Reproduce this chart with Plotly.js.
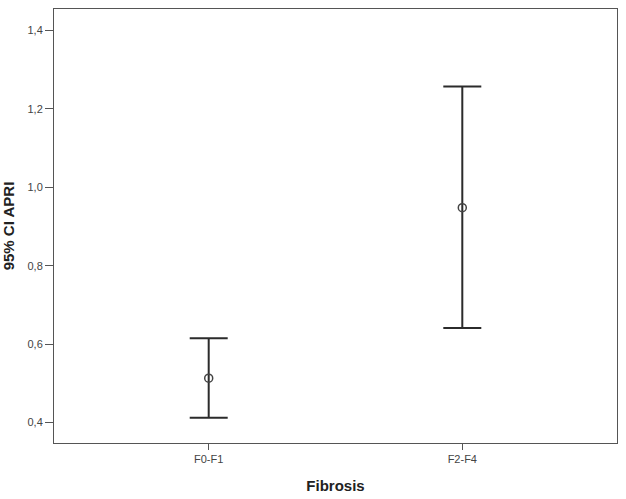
<!DOCTYPE html>
<html><head><meta charset="utf-8">
<script src="https://cdn.plot.ly/plotly-3.0.1.min.js"></script>
<style>html,body{margin:0;padding:0;background:#fff}</style>
</head><body><div id="chart" style="width:626px;height:499px"></div>
<script>
const categories = ["F0-F1", "F2-F4"];
const means = [0.513, 0.948];
const upper = [0.615, 1.257];
const lower = [0.412, 0.641];
const yTicks = [0.4, 0.6, 0.8, 1.0, 1.2, 1.4];

const trace = {
  type: 'scatter', mode: 'markers',
  x: categories, y: means,
  marker: {symbol: 'circle-open', size: 8, color: '#444', line: {width: 1.5, color: '#444'}},
  error_y: {
    type: 'data', symmetric: false,
    array: means.map((m, i) => upper[i] - m),
    arrayminus: means.map((m, i) => m - lower[i]),
    color: '#2b2b2b', thickness: 2, width: 19
  },
  hoverinfo: 'skip'
};

const layout = {
  width: 626, height: 499,
  margin: {l: 54, r: 9, t: 9, b: 56},
  paper_bgcolor: '#fff', plot_bgcolor: '#fff',
  separators: ',.',
  showlegend: false,
  font: {family: 'Arial, Liberation Sans, sans-serif', size: 11, color: '#444'},
  xaxis: {
    type: 'category', range: [-0.61, 1.61],
    showline: true, mirror: true, linecolor: '#555', linewidth: 1,
    showgrid: false, zeroline: false,
    ticks: 'outside', ticklen: 6, tickcolor: '#555',
    tickfont: {size: 11, color: '#444'},
    title: {text: 'Fibrosis', font: {size: 15, color: '#222', family: 'Arial, Liberation Sans, sans-serif', weight: 'bold'}, standoff: 16}
  },
  yaxis: {
    range: [0.3475, 1.455],
    tickvals: yTicks, ticktext: yTicks.map(v => v.toFixed(1).replace('.', ',')),
    showline: true, mirror: true, linecolor: '#555', linewidth: 1,
    showgrid: false, zeroline: false,
    ticks: 'outside', ticklen: 8, tickcolor: '#555',
    tickfont: {size: 11, color: '#444'},
    title: {text: '95% CI APRI', font: {size: 15, color: '#222', family: 'Arial, Liberation Sans, sans-serif', weight: 'bold'}, standoff: 9}
  }
};

Plotly.newPlot('chart', [trace], layout, {displayModeBar: false, staticPlot: true});
</script></body></html>
